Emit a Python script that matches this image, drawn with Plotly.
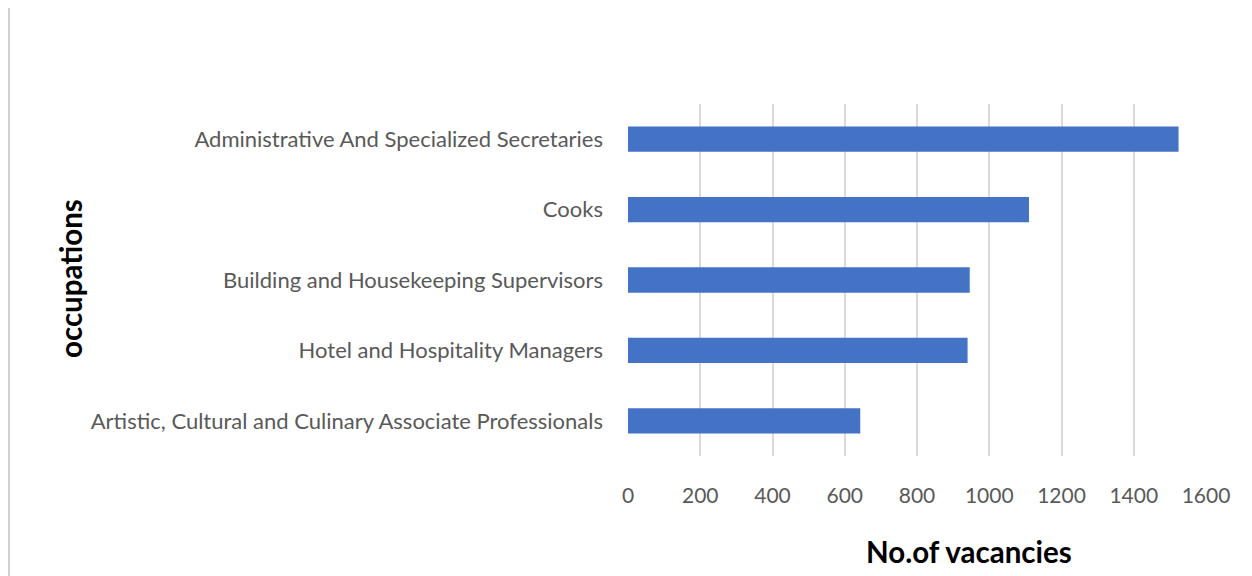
import plotly.graph_objects as go

categories = [
    "Artistic, Cultural and Culinary Associate Professionals",
    "Hotel and Hospitality Managers",
    "Building and Housekeeping Supervisors",
    "Cooks",
    "Administrative And Specialized Secretaries",
]
vacancies = [643, 940, 946, 1110, 1524]
x_ticks = [0, 200, 400, 600, 800, 1000, 1200, 1400, 1600]

FONT = "Lato"
W, H = 1252, 576
OFF = 8  # page body margin offset
L, R, T, B = 620, 54, 96, 128
PW, PH = W - L - R, H - T - B


def px(xs):
    return (xs - OFF - L) / PW


def py(ys):
    return (H - B - (ys - OFF)) / PH


fig = go.Figure(
    go.Bar(
        x=vacancies,
        y=categories,
        orientation="h",
        marker=dict(color="#4472C4", line=dict(width=0)),
        width=0.36,
    )
)

fig.update_layout(
    width=W,
    height=H,
    margin=dict(l=L, r=R, t=T, b=B),
    paper_bgcolor="white",
    plot_bgcolor="white",
    showlegend=False,
    font=dict(family=FONT, color="#595959", size=20),
    xaxis=dict(
        range=[0, 1600],
        tickvals=x_ticks,
        ticktext=[str(v) for v in x_ticks],
        showgrid=True,
        gridcolor="#D9D9D9",
        gridwidth=1.5,
        zeroline=False,
        showline=False,
        ticks="",
        ticklabelstandoff=25,
        tickfont=dict(family=FONT, size=21, color="#595959"),
    ),
    yaxis=dict(
        categoryorder="array",
        categoryarray=categories,
        showgrid=False,
        zeroline=False,
        showline=False,
        ticks="",
        ticklabelstandoff=24,
        tickfont=dict(family=FONT, size=22, color="#595959"),
    ),
    annotations=[
        dict(
            text="<b>No.of vacancies</b>",
            xref="paper", yref="paper",
            x=px(969), y=py(551),
            xanchor="center", yanchor="middle",
            showarrow=False,
            font=dict(family=FONT, size=29.5, color="black"),
        ),
        dict(
            text="<b>occupations</b>",
            xref="paper", yref="paper",
            x=px(70), y=py(279),
            xanchor="center", yanchor="middle",
            textangle=-90,
            showarrow=False,
            font=dict(family=FONT, size=29.5, color="black"),
        ),
    ],
    shapes=[
        dict(
            type="line", xref="paper", yref="paper",
            x0=px(9), x1=px(9),
            y0=py(5), y1=py(600),
            line=dict(color="#D0D0D0", width=2),
        )
    ],
)

fig.write_html("out.html")
